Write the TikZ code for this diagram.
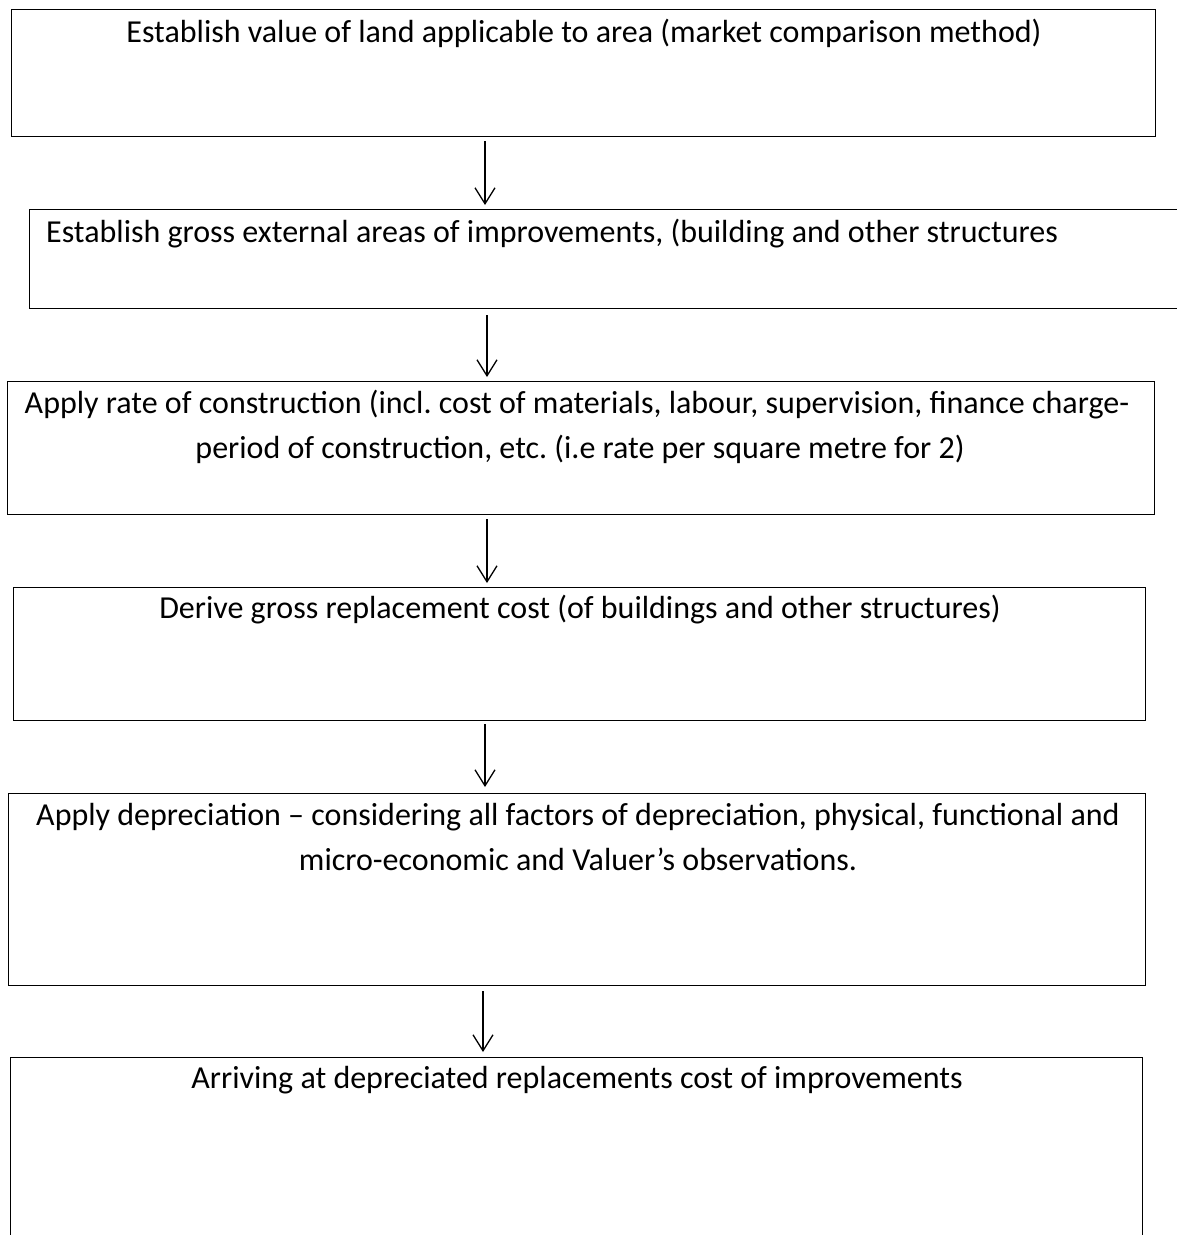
\documentclass[tikz,border=0pt]{standalone}
\usepackage{fontspec}
\setmainfont{Carlito}
\usetikzlibrary{arrows.meta}
\frenchspacing
\begin{document}
\begin{tikzpicture}[x=1pt,y=-1pt,
  boxline/.style={draw=black,line width=1pt},
  boxnode/.style={anchor=north west,inner sep=0pt,outer sep=0pt,line width=1pt},
  txt/.style={anchor=base,inner sep=0pt,font=\fontsize{32}{45}\selectfont},
  arr/.style={line width=1.3pt,-{Straight Barb[length=16pt,width=20pt,line width=1.3pt]}}]
\useasboundingbox[fill=white] (0,0) rectangle (1177,1235);
% boxes
\node[boxnode,draw,minimum width=1144pt,minimum height=127pt] (b1) at (11,9) {};
\node[boxnode,minimum width=1160pt,minimum height=99pt] (b2) at (29,209) {};
\draw[boxline] (b2.north east) -- (b2.north west) -- (b2.south west) -- (b2.south east);
\node[boxnode,draw,minimum width=1147pt,minimum height=133pt] (b3) at (7,381) {};
\node[boxnode,draw,minimum width=1132pt,minimum height=133pt] (b4) at (13,587) {};
\node[boxnode,draw,minimum width=1137pt,minimum height=192pt] (b5) at (8,793) {};
\node[boxnode,minimum width=1132pt,minimum height=190pt] (b6) at (10,1057) {};
\draw[boxline] (b6.south east) -- (b6.north east) -- (b6.north west) -- (b6.south west);
% texts
\node[txt] (t1) at (584,42) {Establish value of land applicable to area (market comparison method)};
\node[txt,anchor=base west] (t2) at (46,242) {Establish gross external areas of improvements, (building and other structures};
\node[txt] (t3a) at (577,413) {Apply rate of construction (incl. cost of materials, labour, supervision, finance charge-};
\node[txt] (t3b) at (580,458) {period of construction, etc. (i.e rate per square metre for 2)};
\node[txt] (t4) at (580,618) {Derive gross replacement cost (of buildings and other structures)};
\node[txt] (t5a) at (578,825) {Apply depreciation -- considering all factors of depreciation, physical, functional and};
\node[txt] (t5b) at (578,870) {micro-economic and Valuer’s observations.};
\node[txt] (t6) at (577,1088) {Arriving at depreciated replacements cost of improvements};
% arrows
\coordinate (ax1) at (485,0);
\coordinate (ax2) at (487,0);
\coordinate (ax3) at (487,0);
\coordinate (ax4) at (485,0);
\coordinate (ax5) at (483,0);
\draw[arr] ([yshift=-5pt]b1.south -| ax1) -- ([yshift=4pt]b2.north -| ax1);
\draw[arr] ([yshift=-7pt]b2.south -| ax2) -- ([yshift=4pt]b3.north -| ax2);
\draw[arr] ([yshift=-5pt]b3.south -| ax3) -- ([yshift=4pt]b4.north -| ax3);
\draw[arr] ([yshift=-4pt]b4.south -| ax4) -- ([yshift=6pt]b5.north -| ax4);
\draw[arr] ([yshift=-6pt]b5.south -| ax5) -- ([yshift=5pt]b6.north -| ax5);
\end{tikzpicture}
\end{document}
